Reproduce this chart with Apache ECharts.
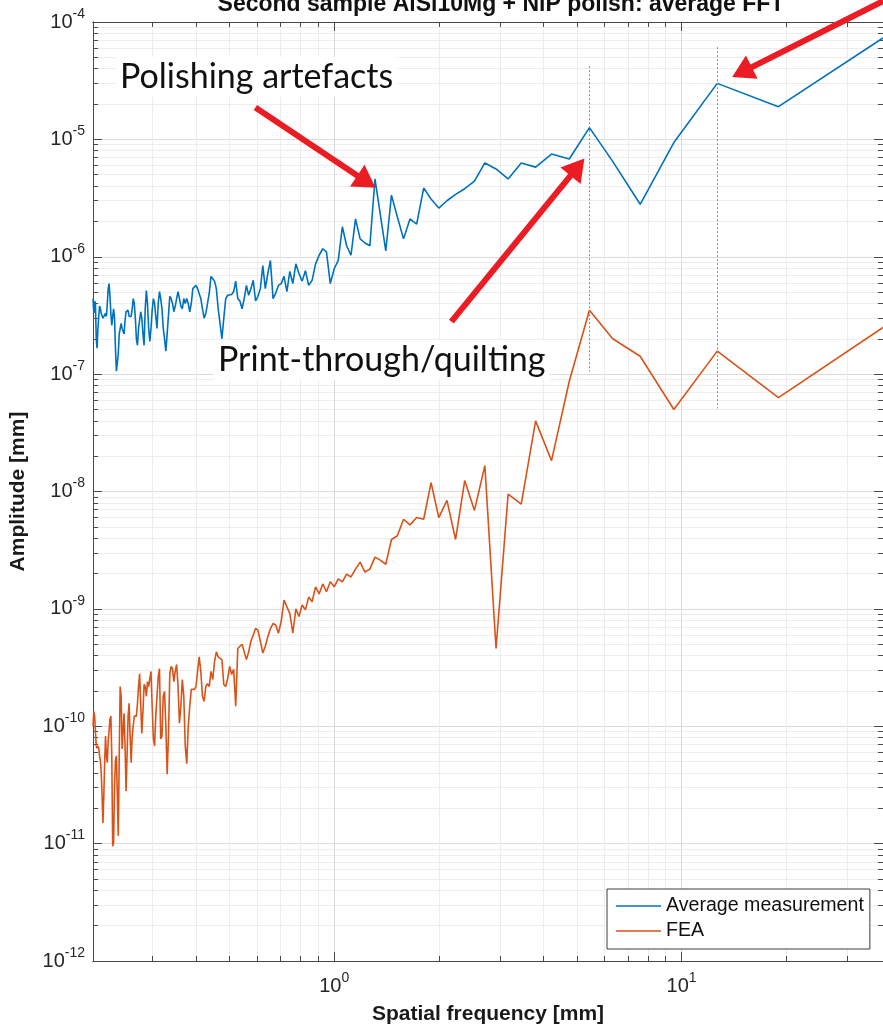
<!DOCTYPE html>
<html>
<head>
<meta charset="utf-8">
<script src="https://cdn.jsdelivr.net/npm/echarts@6/dist/echarts.min.js"></script>
<style>html,body{margin:0;padding:0;background:#fff}#chart{width:883px;height:1030px}</style>
</head>
<body>
<div id="chart"></div>
<script>
// FFT bins: bin k (k = 1..N) sits at spatial frequency binLength / k
const binLength = 38; // mm

// Average measurement amplitude [mm], bin k = 1 .. 188
const measurement = [
  7.3e-5, 1.9e-5, 3.0e-5, 9.4e-6, 2.8e-6, 6.5e-6, 1.26e-5, 6.8e-6, 7.5e-6, 5.8e-6,
  6.3e-6, 4.6e-6, 5.6e-6, 6.3e-6, 4.4e-6, 3.8e-6, 3.4e-6, 3.0e-6, 2.6e-6, 3.1e-6,
  3.85e-6, 1.9e-6, 2.1e-6, 1.42e-6, 2.18e-6, 3.35e-6, 1.12e-6, 2.3e-6, 4.6e-6, 1.24e-6,
  1.31e-6, 1.42e-6, 2.1e-6, 1.03e-6, 1.24e-6, 1.8e-6, 9.3e-7, 7.9e-7, 5.9e-7, 1.1e-6,
  1.17e-6, 1.03e-6, 8.7e-7, 6.3e-7, 5.7e-7, 7.6e-7, 6.2e-7, 7.2e-7, 8.7e-7, 5.9e-7,
  7.5e-7, 5.05e-7, 6.8e-7, 5.9e-7, 5.7e-7, 4.9e-7, 4.4e-7, 9.3e-7, 7.2e-7, 5.35e-7,
  8.4e-7, 5.35e-7, 4.6e-7, 4.2e-7, 6.3e-7, 5.35e-7, 4.7e-7, 5.7e-7, 4.4e-7, 3.6e-7,
  4.2e-7, 4.4e-7, 6.2e-7, 5.05e-7, 4.77e-7, 4.6e-7, 4.7e-7, 4.4e-7, 3.0e-7, 2.0e-7,
  2.7e-7, 3.6e-7, 5.35e-7, 6.2e-7, 6.5e-7, 6.8e-7, 4.9e-7, 4.0e-7, 3.3e-7, 3.0e-7,
  3.6e-7, 4.4e-7, 4.4e-7, 5.35e-7, 5.7e-7, 5.6e-7, 5.35e-7, 4.0e-7, 3.4e-7, 4.0e-7,
  4.4e-7, 4.0e-7, 4.4e-7, 3.6e-7, 3.8e-7, 4.4e-7, 5.05e-7, 4.4e-7, 3.8e-7, 3.4e-7,
  4.0e-7, 4.4e-7, 4.6e-7, 4.7e-7, 2.2e-7, 1.57e-7, 2.0e-7, 2.45e-7, 3.6e-7, 4.4e-7,
  5.05e-7, 4.0e-7, 2.45e-7, 3.1e-7, 4.0e-7, 4.4e-7, 3.5e-7, 2.45e-7, 1.9e-7, 2.45e-7,
  4.0e-7, 5.15e-7, 3.6e-7, 1.76e-7, 2.2e-7, 3.0e-7, 3.4e-7, 3.3e-7, 2.45e-7, 1.76e-7,
  2.0e-7, 3.0e-7, 4.0e-7, 4.4e-7, 3.6e-7, 3.1e-7, 3.0e-7, 3.1e-7, 3.5e-7, 3.6e-7,
  3.4e-7, 2.87e-7, 2.2e-7, 2.14e-7, 2.45e-7, 2.7e-7, 2.8e-7, 2.2e-7, 1.5e-7, 1.24e-7,
  1.06e-7, 1.66e-7, 3.0e-7, 3.6e-7, 3.1e-7, 2.6e-7, 3.3e-7, 4.6e-7, 5.9e-7, 5.35e-7,
  4.0e-7, 3.1e-7, 3.3e-7, 3.4e-7, 3.2e-7, 3.0e-7, 3.0e-7, 3.3e-7, 3.6e-7, 3.8e-7,
  3.9e-7, 2.45e-7, 1.66e-7, 2.0e-7, 4.0e-7, 4.2e-7, 3.3e-7, 4.4e-7
];

// FEA amplitude [mm], bin k = 1 .. 188
const fea = [
  2.5e-7, 6.3e-8, 1.57e-7, 5.0e-8, 1.42e-7, 2.0e-7, 3.5e-7, 8.7e-8, 1.83e-8, 4.0e-8,
  7.8e-9, 9.5e-9, 4.6e-10, 1.66e-8, 6.9e-9, 1.24e-8, 3.9e-9, 8.4e-9, 6.0e-9, 1.19e-8,
  5.8e-9, 6.0e-9, 5.2e-9, 5.8e-9, 4.2e-9, 3.9e-9, 2.4e-9, 2.6e-9, 2.76e-9, 2.18e-9,
  2.06e-9, 2.5e-9, 2.18e-9, 1.87e-9, 1.98e-9, 1.7e-9, 1.8e-9, 1.54e-9, 1.7e-9, 1.4e-9,
  1.63e-9, 1.34e-9, 1.54e-9, 1.15e-9, 1.26e-9, 9.8e-10, 1.08e-9, 8.6e-10, 1.0e-9, 6.2e-10,
  9.1e-10, 1.04e-9, 1.19e-9, 7.8e-10, 6.2e-10, 7.3e-10, 7.5e-10, 6.8e-10, 5.8e-10, 4.8e-10,
  4.2e-10, 5.3e-10, 6.6e-10, 6.8e-10, 6.0e-10, 5.3e-10, 4.3e-10, 3.7e-10, 4.3e-10, 5.0e-10,
  4.8e-10, 4.6e-10, 1.48e-10, 3.05e-10, 2.76e-10, 3.23e-10, 2.55e-10, 2.18e-10, 2.27e-10, 3.7e-10,
  3.56e-10, 3.9e-10, 4.3e-10, 3.56e-10, 2.5e-10, 2.93e-10, 2.18e-10, 2.3e-10, 2.18e-10, 1.63e-10,
  1.8e-10, 2.93e-10, 3.9e-10, 2.93e-10, 2.18e-10, 2.06e-10, 2.1e-10, 2.06e-10, 1.48e-10, 1.0e-10,
  4.8e-11, 6.8e-11, 1.8e-10, 2.5e-10, 1.48e-10, 1.06e-10, 2.18e-10, 3.36e-10, 2.93e-10, 2.4e-10,
  3.1e-10, 3.23e-10, 2.8e-10, 8.25e-11, 3.9e-11, 1.0e-10, 1.98e-10, 1.8e-10, 8.25e-11, 7.8e-11,
  3.1e-10, 2.66e-10, 1.8e-10, 1.22e-10, 6.8e-11, 7.8e-11, 1.48e-10, 2.93e-10, 2.55e-10, 2.18e-10,
  2.4e-10, 1.8e-10, 2.18e-10, 2.27e-10, 1.34e-10, 8.7e-11, 1.48e-10, 2.8e-10, 2.18e-10, 1.57e-10,
  1.22e-10, 1.26e-10, 1.22e-10, 1.0e-10, 8.25e-11, 4.9e-11, 8.25e-11, 1.57e-10, 1.22e-10, 5.6e-11,
  2.8e-11, 6.8e-11, 1.29e-10, 9.1e-11, 6.4e-11, 1.8e-10, 2.18e-10, 5.6e-11, 1.17e-11, 2.55e-11,
  5.6e-11, 5.1e-11, 3.1e-11, 1.02e-11, 9.5e-12, 5.6e-11, 1.22e-10, 1.15e-10, 9.1e-11, 7.5e-11,
  4.9e-11, 5.6e-11, 8.25e-11, 4.9e-11, 2.55e-11, 1.5e-11, 2.55e-11, 4.0e-11, 5.1e-11, 5.6e-11,
  6.5e-11, 6.8e-11, 6.5e-11, 6.8e-11, 9.1e-11, 1.22e-10, 1.34e-10, 1.0e-10
];

const seriesNames = ['Average measurement', 'FEA'];

// Axis ticks
const xMajorTicks = [1, 10];
const xMinorTicks = [0.3, 0.4, 0.5, 0.6, 0.7, 0.8, 0.9, 2, 3, 4, 5, 6, 7, 8, 9, 20, 30];
const yMajorTicks = [1e-12, 1e-11, 1e-10, 1e-9, 1e-8, 1e-7, 1e-6, 1e-5, 1e-4];
const minorMantissas = [2, 3, 4, 5, 6, 7, 8, 9];
const yMin = 1e-12, yMax = 1e-4;

// Annotation anchors (data coordinates)
const peakBins = [7, 3]; // print-through peaks marked by dotted lines
const peakLineTop = [4.2e-5, 6.1e-5];
const peakLineBottom = [1.05e-7, 5.1e-8];

const frequency = measurement.map((_, i) => binLength / (i + 1));
const xMin = frequency[frequency.length - 1];
const xMax = binLength;

const yMinorTicks = [];
yMajorTicks.slice(0, -1).forEach(d => minorMantissas.forEach(m => yMinorTicks.push(+(m * d).toPrecision(3))));

const FONT = '"Liberation Sans", Arial, Helvetica, sans-serif';
const TXT = '#262626';
const AX = '#4a4a4a';
const BLUE = '#0072BD';
const ORANGE = '#D95319';
const RED = '#ec1c24';
const MAJOR_GRID = '#dcdcdc';
const MINOR_GRID = '#ededed';

const rich = {
  b: { fontFamily: FONT, fontSize: 20, lineHeight: 30, color: TXT },
  s: { fontFamily: FONT, fontSize: 14, lineHeight: 14, verticalAlign: 'top', color: TXT }
};
function powLabel(v) { return '{b|10}{s|' + Math.round(Math.log10(v)) + '}'; }

function axis(dim, pos, ticks, len, opts) {
  const isX = dim === 'x';
  return Object.assign({
    type: 'log', logBase: 10, gridIndex: 0, position: pos,
    min: isX ? xMin : yMin, max: isX ? xMax : yMax,
    axisLine: { show: true, onZero: false, lineStyle: { color: AX, width: 1 } },
    axisTick: { show: true, inside: true, length: len, customValues: ticks, lineStyle: { color: AX, width: 1 } },
    axisLabel: { show: false },
    splitLine: { show: false },
    minorTick: { show: false }, minorSplitLine: { show: false },
    silent: true
  }, opts || {});
}

const chart = echarts.init(document.getElementById('chart'), null, { renderer: 'canvas' });

const option = {
  animation: false,
  backgroundColor: '#fff',
  grid: { left: 92, top: 22, width: 793.6, height: 943, containLabel: false },
  xAxis: [
    axis('x', 'bottom', xMinorTicks, 5, { splitLine: { show: true, lineStyle: { color: MINOR_GRID, width: 1 } } }),
    axis('x', 'bottom', xMajorTicks, 9, {
      splitLine: { show: true, lineStyle: { color: MAJOR_GRID, width: 1 } },
      axisLabel: { show: true, customValues: xMajorTicks, formatter: powLabel, rich: rich, margin: 10 },
      name: 'Spatial frequency [mm]', nameLocation: 'middle', nameGap: 43,
      nameTextStyle: { fontFamily: FONT, fontSize: 21, fontWeight: 'bold', color: '#1a1a1a', verticalAlign: 'top' }
    }),
    axis('x', 'top', xMinorTicks, 5),
    axis('x', 'top', xMajorTicks, 9)
  ],
  yAxis: [
    axis('y', 'left', yMinorTicks, 5, { splitLine: { show: true, lineStyle: { color: MINOR_GRID, width: 1 } } }),
    axis('y', 'left', yMajorTicks, 9, {
      splitLine: { show: true, lineStyle: { color: MAJOR_GRID, width: 1 } },
      axisLabel: { show: true, customValues: yMajorTicks, formatter: powLabel, rich: rich, margin: 8 },
      name: 'Amplitude [mm]', nameLocation: 'middle', nameGap: 64, nameRotate: 90,
      nameTextStyle: { fontFamily: FONT, fontSize: 21, fontWeight: 'bold', color: '#1a1a1a' }
    }),
    axis('y', 'right', yMinorTicks, 5),
    axis('y', 'right', yMajorTicks, 9)
  ],
  legend: {
    data: seriesNames, orient: 'vertical', left: 607, top: 889,
    icon: 'rect', itemWidth: 45, itemHeight: 1.6, itemGap: 3,
    padding: [6, 6, 7, 9],
    backgroundColor: '#fff', borderColor: '#3c3c3c', borderWidth: 1, borderRadius: 0,
    textStyle: { fontFamily: FONT, fontSize: 19.6, lineHeight: 22, color: '#111' },
    selectedMode: false
  },
  series: [
    {
      name: seriesNames[0], type: 'line', xAxisIndex: 1, yAxisIndex: 1,
      data: frequency.map((f, i) => [f, measurement[i]]),
      symbol: 'none', showSymbol: false,
      lineStyle: { color: BLUE, width: 1.6 }, itemStyle: { color: BLUE }, z: 3
    },
    {
      name: seriesNames[1], type: 'line', xAxisIndex: 1, yAxisIndex: 1,
      data: frequency.map((f, i) => [f, fea[i]]),
      symbol: 'none', showSymbol: false,
      lineStyle: { color: ORANGE, width: 1.6 }, itemStyle: { color: ORANGE }, z: 3
    },
    {
      name: 'annotations', type: 'line', xAxisIndex: 1, yAxisIndex: 1, data: [], clip: false, z: 6, silent: true,
      markLine: {
        silent: true, animation: false, symbol: ['none', 'none'], label: { show: false },
        data: [
          [
            { coord: [frequency[peakBins[0] - 1], peakLineTop[0]], lineStyle: { color: '#8a8a8a', width: 1, type: [2, 2] } },
            { coord: [frequency[peakBins[0] - 1], peakLineBottom[0]] }
          ],
          [
            { coord: [frequency[peakBins[1] - 1], peakLineTop[1]], lineStyle: { color: '#8a8a8a', width: 1, type: [2, 2] } },
            { coord: [frequency[peakBins[1] - 1], peakLineBottom[1]] }
          ],
          [
            { coord: [0.593, 1.87e-5], symbol: 'none', lineStyle: { color: RED, width: 6, type: 'solid' } },
            { coord: [1.238, 4.36e-6], symbol: 'triangle', symbolSize: [26, 22] }
          ],
          [
            { coord: [2.174, 2.8e-7], symbol: 'none', lineStyle: { color: RED, width: 6, type: 'solid' } },
            { coord: [5.015, 5.8e-6], symbol: 'triangle', symbolSize: [26, 22] }
          ],
          [
            { x: 905, y: -10, symbol: 'none', lineStyle: { color: RED, width: 6, type: 'solid' } },
            { coord: [14.92, 3.74e-5], symbol: 'triangle', symbolSize: [26, 22] }
          ]
        ]
      }
    }
  ],
  graphic: [
    {
      type: 'text', x: 501, y: 5, z: 20,
      style: { text: 'Second sample AlSi10Mg + NiP polish: average FFT', font: 'bold 23px ' + FONT, fill: '#111', align: 'center', verticalAlign: 'middle' }
    },
    {
      type: 'text', x: 116, y: 77, z: 20,
      style: { text: 'Polishing artefacts', font: '34px Lato, "Open Sans", sans-serif', fill: '#111', align: 'left', verticalAlign: 'middle', backgroundColor: '#fff', padding: [3, 4, 3, 4] }
    },
    {
      type: 'text', x: 214, y: 360, z: 20,
      style: { text: 'Print-through/quilting', font: '34px Lato, "Open Sans", sans-serif', fill: '#111', align: 'left', verticalAlign: 'middle', backgroundColor: '#fff', padding: [3, 4, 3, 4] }
    }
  ]
};

chart.setOption(option);
</script>
</body>
</html>
